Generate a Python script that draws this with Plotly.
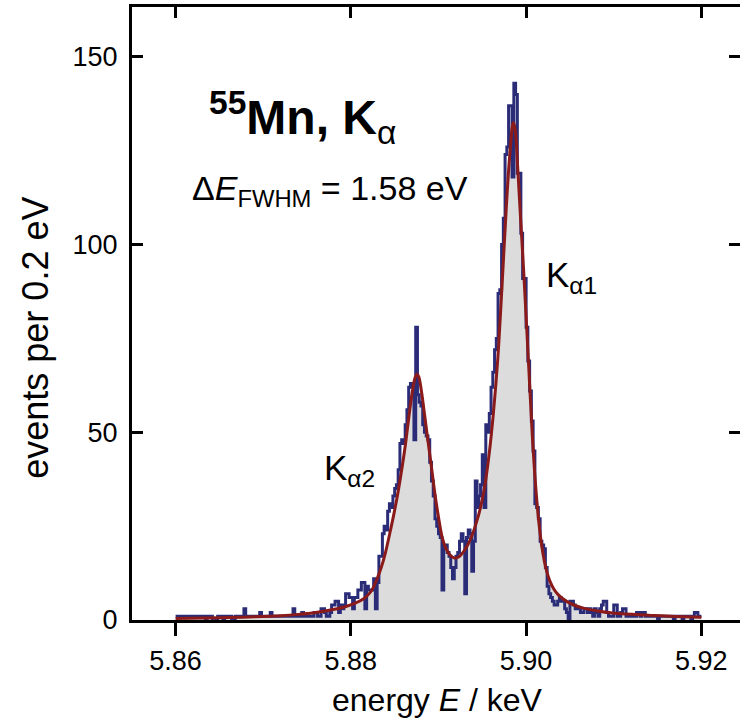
import plotly.graph_objects as go

# ---- data -------------------------------------------------------------
energy_start_kev = 5.86
bin_width_kev = 0.0002  # 0.2 eV bins

counts = [
    1, 1, 1, 1, 1, 1, 1, 1, 1, 1,
    1, 1, 1, 1, 1, 1, 1, 0, 1, 1,
    1, 0, 0, 0, 1, 1, 1, 0, 1, 1,
    1, 1, 0, 0, 1, 1, 1, 1, 1, 3,
    1, 1, 1, 1, 1, 1, 1, 1, 2, 1,
    1, 1, 1, 1, 2, 1, 1, 1, 1, 1,
    1, 1, 1, 1, 1, 1, 1, 3, 1, 1,
    1, 1, 2, 1, 1, 1, 1, 1, 1, 2,
    2, 1, 1, 3, 3, 2, 1, 1, 2, 4,
    4, 5, 5, 2, 4, 3, 4, 7, 7, 6,
    6, 3, 6, 6, 8, 8, 10, 10, 3, 9,
    8, 8, 8, 11, 3, 10, 17, 17, 23, 25,
    24, 29, 31, 30, 33, 35, 36, 40, 47,
    48, 47, 52, 56, 62, 63, 62, 48, 78, 60,
    58, 57, 52, 50, 49, 48, 42, 37, 33, 27,
    25, 23, 22, 8, 20, 20, 18, 17, 14, 11,
    14, 17, 18, 21, 23, 21, 7, 22, 24,
    23, 13, 21, 37, 30, 33, 36, 44, 30, 52,
    50, 55, 62, 66, 72, 75, 87, 88, 100, 107,
    124, 126, 137, 137, 118, 143, 140, 119, 119, 103,
    91, 91, 78, 69, 61, 53, 45, 31, 30, 27,
    21, 20, 19, 14, 9, 7, 6, 5, 4, 4,
    5, 6, 5, 5, 3, 2, 0, 5, 5, 4,
    3, 3, 3, 2, 2, 3, 3, 2, 3,
    2, 1, 3, 2, 1, 3, 4, 5, 5, 2,
    1, 1, 1, 4, 4, 1, 1, 2, 3, 3,
    1, 1, 1, 1, 1, 1, 2, 2, 1, 2,
    2, 1, 1, 1, 1, 1, 1, 1, 0, 1,
    1, 1, 1, 1, 1, 1, 1, 0, 1, 1,
    1, 1, 0, 1, 1, 1, 1, 0, 1, 2,
    2, 1, 1,
]

fit_energy_kev = [
    5.86000, 5.86313, 5.86609, 5.86906, 5.87203, 5.87401, 5.87598, 5.87796,
    5.87945, 5.88043, 5.88142, 5.88192, 5.88241, 5.88291, 5.88340, 5.88390,
    5.88439, 5.88489, 5.88538, 5.88587, 5.88627, 5.88667, 5.88706, 5.88736,
    5.88756, 5.88775, 5.88805, 5.88845, 5.88884, 5.88924, 5.88963, 5.89003,
    5.89042, 5.89082, 5.89131, 5.89181, 5.89230, 5.89280, 5.89329, 5.89379,
    5.89428, 5.89478, 5.89527, 5.89577, 5.89626, 5.89675, 5.89725, 5.89774,
    5.89814, 5.89853, 5.89873, 5.89903, 5.89932, 5.89972, 5.90022, 5.90071,
    5.90111, 5.90150, 5.90190, 5.90229, 5.90269, 5.90318, 5.90368, 5.90467,
    5.90566, 5.90664, 5.90813, 5.90961, 5.91208, 5.91456, 5.91703, 5.92000,
]
fit_counts = [
    0.4, 0.5, 0.65, 0.85, 1.15, 1.5, 2.0, 2.8,
    3.6, 4.4, 5.6, 6.6, 8.0, 10.5, 13.5, 17.5,
    22.5, 28.0, 34.0, 41.0, 47.5, 55.0, 61.5, 64.8,
    65.5, 64.8, 61.0, 54.0, 47.0, 40.0, 33.0, 27.0,
    22.0, 19.2, 17.3, 16.5, 16.8, 18.0, 19.8, 22.3,
    25.6, 29.8, 35.5, 44.0, 55.0, 69.0, 89.0, 110.0,
    124.0, 132.5, 131.0, 121.0, 109.0, 93.0, 71.0, 49.0,
    35.0, 25.0, 18.0, 13.5, 10.5, 8.2, 6.7, 4.9,
    3.8, 3.1, 2.4, 1.95, 1.5, 1.2, 0.95, 0.72,
]

x_tick_vals = [5.86, 5.88, 5.90, 5.92]
x_tick_text = ["5.86", "5.88", "5.90", "5.92"]
y_tick_vals = [0, 50, 100, 150]
y_tick_text = ["0", "50", "100", "150"]

# ---- histogram outline (bin edges) ------------------------------------
edges = [energy_start_kev + i * bin_width_kev for i in range(len(counts) + 1)]
hist_y = counts + [counts[-1]]

FONT = "Liberation Sans, Arial, Helvetica, sans-serif"
BLUE = "#2b2c78"
RED = "#8b1a1a"
GREY = "#dcdcdc"

fig = go.Figure()

# grey area under the fit
fig.add_trace(go.Scatter(
    x=fit_energy_kev, y=fit_counts, mode="lines",
    line=dict(width=0, shape="spline", color=GREY),
    fill="tozeroy", fillcolor=GREY, hoverinfo="skip",
))
# measured histogram
fig.add_trace(go.Scatter(
    x=edges, y=hist_y, mode="lines",
    line=dict(color=BLUE, width=3, shape="hv"),
))
# fit line
fig.add_trace(go.Scatter(
    x=fit_energy_kev, y=fit_counts, mode="lines",
    line=dict(color=RED, width=3, shape="spline"),
))
# dummy trace to activate the mirrored top / right axes
fig.add_trace(go.Scatter(
    x=[5.90], y=[None], xaxis="x2", yaxis="y2", mode="lines",
    hoverinfo="skip", showlegend=False,
))

x_range = [5.855025, 5.924408]
y_range = [0, 163.3]

fig.update_layout(
    width=740, height=721,
    margin=dict(l=132, r=0, t=7, b=101),
    plot_bgcolor="white", paper_bgcolor="white",
    showlegend=False,
    font=dict(family=FONT, color="black"),
    xaxis=dict(
        range=x_range, tickvals=x_tick_vals, ticktext=x_tick_text,
        ticks="outside", ticklen=13, tickwidth=3, tickcolor="black",
        showline=True, linewidth=3, linecolor="black",
        showgrid=False, zeroline=False,
        tickfont=dict(size=27, family=FONT, color="black"),
        ticklabelstandoff=2,
    ),
    yaxis=dict(
        range=y_range, tickvals=y_tick_vals, ticktext=y_tick_text,
        ticks="inside", ticklen=11, tickwidth=3, tickcolor="black",
        showline=True, linewidth=3, linecolor="black",
        showgrid=False, zeroline=False,
        tickfont=dict(size=27, family=FONT, color="black"),
        ticklabelstandoff=6,
    ),
    xaxis2=dict(
        overlaying="x", side="top", anchor="y", range=x_range,
        tickvals=x_tick_vals, ticks="inside", ticklen=11, tickwidth=3,
        tickcolor="black", showline=True, linewidth=3, linecolor="black",
        showticklabels=False, showgrid=False, zeroline=False,
    ),
    yaxis2=dict(
        overlaying="y", side="right", anchor="x", range=y_range,
        tickvals=y_tick_vals, ticks="inside", ticklen=11, tickwidth=3,
        tickcolor="black", showline=False,
        showticklabels=False, showgrid=False, zeroline=False,
    ),
)

annotations = [
    dict(text="energy <i>E</i> / keV", x=0.503, y=-0.13, xref="paper", yref="paper",
         xanchor="center", yanchor="middle", showarrow=False,
         font=dict(size=32, family=FONT)),
    dict(text="events per 0.2 eV", x=-0.16, y=0.46, xref="paper", yref="paper",
         xanchor="center", yanchor="middle", textangle=-90, showarrow=False,
         font=dict(size=36, family=FONT)),
    dict(text="<b><sup>55</sup>Mn, K</b><sub>α</sub>", x=0.123, y=0.82,
         xref="paper", yref="paper", xanchor="left", yanchor="middle",
         showarrow=False, font=dict(size=48, family=FONT)),
    dict(text="Δ<i>E</i><sub>FWHM</sub> = 1.58 eV", x=0.095, y=0.70,
         xref="paper", yref="paper", xanchor="left", yanchor="middle",
         showarrow=False, font=dict(size=34, family=FONT)),
    dict(text="K<sub>α2</sub>", x=0.312, y=0.245, xref="paper", yref="paper",
         xanchor="left", yanchor="middle", showarrow=False,
         font=dict(size=35, family=FONT)),
    dict(text="K<sub>α1</sub>", x=0.677, y=0.56, xref="paper", yref="paper",
         xanchor="left", yanchor="middle", showarrow=False,
         font=dict(size=35, family=FONT)),
]
fig.update_layout(annotations=annotations)

fig.write_html("out.html", post_script="document.body.style.margin='0';",
               config={"displayModeBar": False})
